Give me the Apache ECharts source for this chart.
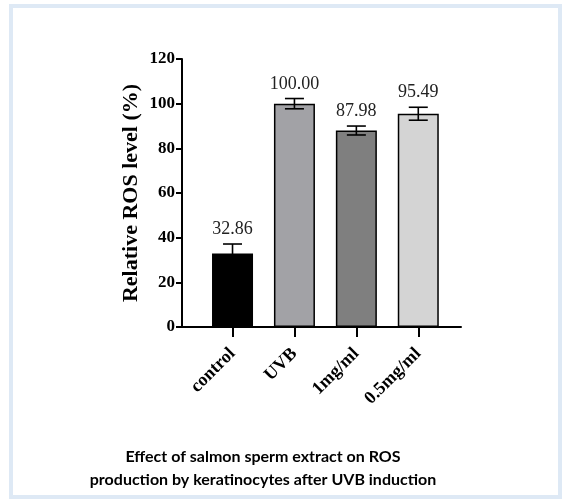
<!DOCTYPE html>
<html lang="en">
<head>
    <meta charset="utf-8">
    <title>ROS level</title>
    <script src="https://cdn.jsdelivr.net/npm/echarts@6/dist/echarts.min.js"></script>
    <style type="text/css">
        html, body { height: 100%; margin: 0; background: #fff; }
    </style>
</head>
<body>
    <div id="main" style="width:568px;height:504px;"></div>
    <script type="text/javascript">
        // data
        var categories = ['control', 'UVB', '1mg/ml', '0.5mg/ml'];
        var means = [32.86, 100.00, 87.98, 95.49];
        var errors = [4.3, 2.3, 2.0, 2.9];
        var yTicks = [0, 20, 40, 60, 80, 100, 120];

        var barColors = ['#000000', '#a2a2a6', '#7f7f7f', '#d4d4d4'];
        var serif = '"Liberation Serif", "Times New Roman", serif';

        var myChart = echarts.init(document.getElementById('main'));

        var barData = [];
        var errData = [];
        for (var i = 0; i < categories.length; i++) {
            barData.push({ value: [i, means[i]], itemStyle: { color: barColors[i] } });
            errData.push([i, means[i], errors[i]]);
        }

        // error bars plus the value label above each one
        function renderError(params, api) {
            var x = api.value(0), m = api.value(1), e = api.value(2);
            var top = api.coord([x, m + e]);
            var bot = api.coord([x, m - e]);
            var half = 9.5;
            var ls = { stroke: '#000', lineWidth: 1.6 };
            return {
                type: 'group',
                children: [
                    { type: 'line', shape: { x1: top[0], y1: top[1], x2: bot[0], y2: bot[1] }, style: ls },
                    { type: 'line', shape: { x1: top[0] - half, y1: top[1], x2: top[0] + half, y2: top[1] }, style: ls },
                    { type: 'line', shape: { x1: bot[0] - half, y1: bot[1], x2: bot[0] + half, y2: bot[1] }, style: ls },
                    {
                        type: 'text',
                        style: {
                            x: top[0], y: top[1] - 14.5,
                            text: m.toFixed(2),
                            align: 'center', verticalAlign: 'middle',
                            font: '18px ' + serif,
                            fill: '#222'
                        }
                    }
                ]
            };
        }

        var option = {
            animation: false,
            backgroundColor: '#fff',
            title: {
                text: 'Effect of salmon sperm extract on ROS\nproduction by keratinocytes after UVB induction',
                left: 263,
                top: 445,
                padding: 0,
                textAlign: 'center',
                textStyle: {
                    fontFamily: 'Lato',
                    fontWeight: 'bold',
                    fontSize: 16,
                    lineHeight: 23,
                    color: '#000'
                }
            },
            graphic: [{
                type: 'rect',
                shape: { x: 11, y: 6, width: 549, height: 491 },
                style: { fill: null, stroke: '#dee9f5', lineWidth: 4 },
                silent: true
            }],
            grid: { left: 182, right: 107, top: 59, bottom: 177 },
            xAxis: {
                type: 'value',
                min: -0.816,
                max: 3.69,
                splitLine: { show: false },
                axisLine: { show: true, onZero: false, lineStyle: { color: '#000', width: 2 } },
                axisTick: {
                    show: true,
                    customValues: [0, 1, 2, 3],
                    length: 10,
                    lineStyle: { color: '#000', width: 2 }
                },
                axisLabel: {
                    customValues: [0, 1, 2, 3],
                    formatter: function (v) { return categories[Math.round(v)]; },
                    rotate: 45,
                    margin: 24,
                    fontFamily: serif,
                    fontWeight: 'bold',
                    fontSize: 18,
                    color: '#000'
                }
            },
            yAxis: {
                type: 'value',
                min: 0,
                max: 120,
                interval: 20,
                name: 'Relative ROS level (%)',
                nameLocation: 'middle',
                nameGap: 40,
                nameTextStyle: {
                    fontFamily: serif,
                    fontWeight: 'bold',
                    fontSize: 22,
                    color: '#000'
                },
                splitLine: { show: false },
                axisLine: { show: true, onZero: false, lineStyle: { color: '#000', width: 2 } },
                axisTick: { show: true, length: 6, lineStyle: { color: '#000', width: 2 } },
                axisLabel: {
                    margin: 7,
                    formatter: function (v) { return yTicks.indexOf(v) >= 0 ? String(v) : ''; },
                    fontFamily: serif,
                    fontWeight: 'bold',
                    fontSize: 17,
                    color: '#000'
                }
            },
            series: [
                {
                    type: 'bar',
                    data: barData,
                    barWidth: 41,
                    itemStyle: { borderColor: '#000', borderWidth: 1.5 },
                    z: 2
                },
                {
                    type: 'custom',
                    data: errData,
                    renderItem: renderError,
                    z: 3
                }
            ]
        };

        myChart.setOption(option);
    </script>
</body>
</html>
